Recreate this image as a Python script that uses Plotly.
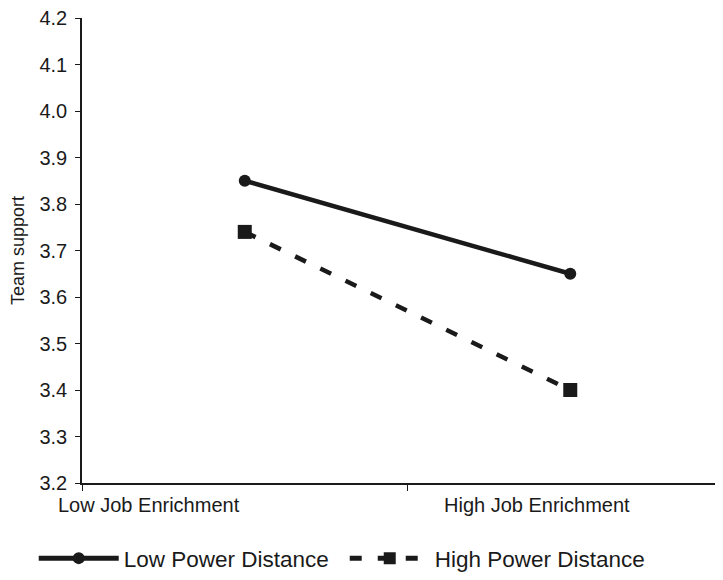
import plotly.graph_objects as go

categories = ["Low Job Enrichment", "High Job Enrichment"]
low_pd = [3.85, 3.65]
high_pd = [3.74, 3.40]
series_names = ["Low Power Distance", "High Power Distance"]
y_ticks = [3.2, 3.3, 3.4, 3.5, 3.6, 3.7, 3.8, 3.9, 4.0, 4.1, 4.2]
label_pos = [-0.295, 0.897]

xs = list(range(len(categories)))
FONT = "Liberation Sans, Arial, sans-serif"
INK = "#1a1a1a"

fig = go.Figure()
fig.add_trace(go.Scatter(
    x=xs, y=low_pd, name=series_names[0], mode="lines+markers",
    line=dict(color=INK, width=4.5),
    marker=dict(symbol="circle", size=12, color=INK),
))
fig.add_trace(go.Scatter(
    x=xs, y=high_pd, name=series_names[1], mode="lines+markers",
    line=dict(color=INK, width=4.5, dash="12px,16px"),
    marker=dict(symbol="square", size=14, color=INK),
))

for pos, lab in zip(label_pos, categories):
    fig.add_annotation(x=pos, y=0, xref="x", yref="paper", text=lab,
                       showarrow=False, yanchor="top", yshift=-9,
                       font=dict(size=20, color=INK, family=FONT))

fig.update_layout(
    width=715, height=572,
    margin=dict(l=74, r=3, t=10, b=97),
    paper_bgcolor="white", plot_bgcolor="white",
    font=dict(family=FONT, color=INK),
    showlegend=True,
    legend=dict(orientation="h", xref="container", x=0.036, xanchor="left",
                yref="container", y=-0.02, yanchor="bottom",
                font=dict(size=22.5, color=INK, family=FONT),
                itemwidth=80, itemsizing="constant", tracegroupgap=0,
                entrywidth=216, entrywidthmode="pixels"),
    xaxis=dict(range=[-0.5, 1.46], showgrid=False, zeroline=False, automargin=False,
               showline=True, linecolor=INK, linewidth=1.5,
               tickmode="array", tickvals=[-0.5, 0.5, 1.5], ticktext=["", "", ""],
               ticks="outside", ticklen=6, tickcolor=INK),
    yaxis=dict(range=[3.2, 4.2], showgrid=False, zeroline=False, automargin=False,
               showline=True, linecolor=INK, linewidth=1.5,
               tickmode="array", tickvals=y_ticks,
               ticktext=[f"{v:.1f}" for v in y_ticks],
               ticks="outside", ticklen=5, tickcolor=INK, ticklabelstandoff=4,
               ticklabeloverflow="allow",
               tickfont=dict(size=20, color=INK, family=FONT),
               title=dict(text="Team support", font=dict(size=18, family=FONT))),
)

fig.write_html("out.html")
